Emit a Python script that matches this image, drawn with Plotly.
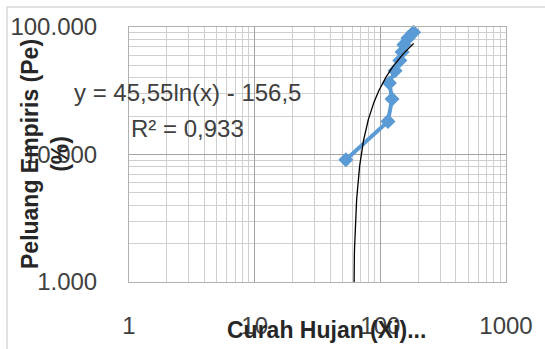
import numpy as np
import plotly.graph_objects as go

# Data
curah_hujan = [53.2, 115.0, 124.0, 118.0, 131.0, 143.0, 149.0, 154.0, 166.0, 184.0]
peluang = [9.09, 18.18, 27.27, 36.36, 45.45, 54.55, 63.64, 72.73, 81.82, 90.91]
eq_text = "y = 45,55ln(x) - 156,5"
r2_text = "R² = 0,933"
x_title = "Curah Hujan (Xi)..."
y_title = "Peluang Empiris (Pe)<br>(%)"

# logarithmic trendline fitted to the data
a, b = np.polyfit(np.log(curah_hujan), peluang, 1)
xs = np.geomspace(min(curah_hujan), max(curah_hujan), 400)
ys = a * np.log(xs) + b
mask = ys > 0.02
xs, ys = xs[mask], ys[mask]

FONT = "Liberation Sans"
BLUE = "#5B9BD5"

fig = go.Figure()
fig.add_trace(go.Scatter(
    x=curah_hujan, y=peluang, mode="lines+markers",
    line=dict(color=BLUE, width=4),
    marker=dict(symbol="diamond", size=10, color=BLUE, line=dict(color=BLUE, width=1.5)),
    showlegend=False, cliponaxis=False))
fig.add_trace(go.Scatter(
    x=xs, y=ys, mode="lines", line=dict(color="black", width=1.3),
    showlegend=False))

L, R, T, B = 129, 39, 27, 67
W, H = 545, 349
pw, ph = W - L - R, H - T - B

def px(xp):
    return (xp - L) / pw

def py(yp):
    return (H - B - yp) / ph

axis_common = dict(
    type="log", showgrid=True, gridcolor="#a3a3a3", gridwidth=1,
    showline=True, mirror=True, linecolor="#b0b0b0", linewidth=1,
    zeroline=False, ticks="", dtick=1, automargin=False,
    tickfont=dict(family=FONT, size=24, color="#404040"),
    minor=dict(showgrid=True, gridcolor="#cfcfcf", gridwidth=1, dtick="D1"),
)

fig.update_xaxes(range=[0, 3], tickformat="d", ticklabelstandoff=22, **axis_common)
fig.update_yaxes(range=[0, 2], tickformat=".3f", ticklabelstandoff=26, **axis_common)

fig.add_annotation(text=eq_text, xref="paper", yref="paper", x=px(187), y=py(93),
                   showarrow=False, xanchor="center", yanchor="middle",
                   font=dict(family=FONT, size=24, color="#404040"))
fig.add_annotation(text=r2_text, xref="paper", yref="paper", x=px(187), y=py(128),
                   showarrow=False, xanchor="center", yanchor="middle",
                   font=dict(family=FONT, size=24, color="#404040"))
fig.add_annotation(text="<b>" + x_title + "</b>", xref="paper", yref="paper",
                   x=px(326), y=py(330), showarrow=False, xanchor="center", yanchor="middle",
                   font=dict(family=FONT, size=23, color="#262626"))
fig.add_annotation(text="<b>" + y_title + "</b>", xref="paper", yref="paper",
                   x=px(45), y=py(154), showarrow=False, xanchor="center", yanchor="middle",
                   textangle=-90, font=dict(family=FONT, size=23, color="#262626"))

fig.add_shape(type="rect", xref="paper", yref="paper",
              x0=px(7), x1=px(600), y0=py(400), y1=py(7),
              line=dict(color="#d9d9d9", width=1.5), fillcolor="rgba(0,0,0,0)", layer="below")

fig.update_layout(
    width=W, height=H, margin=dict(l=L, r=R, t=T, b=B, autoexpand=False),
    paper_bgcolor="white", plot_bgcolor="white",
    font=dict(family=FONT),
)

fig.write_html("out.html", config={"displayModeBar": False},
               post_script="document.body.style.margin='0';document.body.style.overflow='hidden';")
